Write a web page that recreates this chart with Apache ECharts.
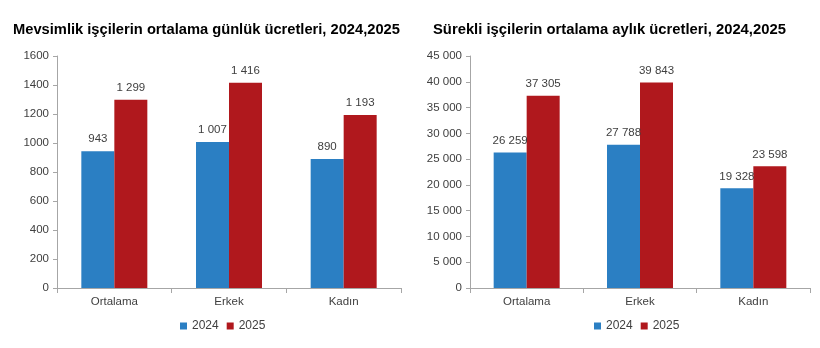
<!DOCTYPE html>
<html>
<head>
<meta charset="utf-8">
<script src="https://cdn.jsdelivr.net/npm/echarts@6/dist/echarts.min.js"></script>
<style>
  html, body { margin: 0; padding: 0; background: #fff; }
  #chart { width: 820px; height: 348px; }
</style>
</head>
<body>
<div id="chart"></div>
<script>
var categories = ['Ortalama', 'Erkek', 'Kadın'];
var years = ['2024', '2025'];
// günlük ücretler (mevsimlik)
var daily2024 = [943, 1007, 890];
var daily2025 = [1299, 1416, 1193];
// aylık ücretler (sürekli)
var monthly2024 = [26259, 27788, 19328];
var monthly2025 = [37305, 39843, 23598];

var blue = '#2b7fc3';
var red = '#b0181d';
var txt = '#404040';
var axisGray = '#a6a6a6';

function spaced(v) {
  return String(v).replace(/\B(?=(\d{3})+(?!\d))/g, ' ');
}

var chart = echarts.init(document.getElementById('chart'));

function xAx(idx) {
  return {
    type: 'category', gridIndex: idx, data: categories,
    axisLine: { lineStyle: { color: axisGray } },
    axisTick: { show: true, length: 5, lineStyle: { color: axisGray } },
    axisLabel: { color: txt, fontSize: 11.5, margin: 8, fontFamily: 'Liberation Sans' }
  };
}
function yAx(idx, max, interval, fmt) {
  return {
    type: 'value', gridIndex: idx, min: 0, max: max, interval: interval,
    axisLine: { show: true, lineStyle: { color: axisGray } },
    axisTick: { show: true, length: 4, lineStyle: { color: axisGray } },
    splitLine: { show: false },
    axisLabel: { color: txt, fontSize: 11.5, margin: 8, fontFamily: 'Liberation Sans', formatter: fmt }
  };
}
function bars(name, data, color, idx) {
  return {
    name: name, type: 'bar', xAxisIndex: idx, yAxisIndex: idx, data: data,
    barWidth: 33, barGap: '0%',
    itemStyle: { color: color },
    label: {
      show: true, position: 'top', distance: 6, color: txt, fontSize: 11.5,
      fontFamily: 'Liberation Sans',
      formatter: function (p) { return spaced(p.value); }
    }
  };
}

var option = {
  animation: false,
  textStyle: { fontFamily: 'Liberation Sans' },
  title: [
    { text: 'Mevsimlik işçilerin ortalama günlük ücretleri, 2024,2025', left: 8, top: 17,
      textStyle: { fontSize: 14.7, fontWeight: 'bold', color: '#000', fontFamily: 'Liberation Sans' } },
    { text: 'Sürekli işçilerin ortalama aylık ücretleri, 2024,2025', left: 428, top: 17,
      textStyle: { fontSize: 14.8, fontWeight: 'bold', color: '#000', fontFamily: 'Liberation Sans' } }
  ],
  legend: [
    { data: years, left: 175, top: 315, itemWidth: 7, itemHeight: 7, itemGap: 8,
      icon: 'rect', textStyle: { color: txt, fontSize: 12 } },
    { data: years, left: 589, top: 315, itemWidth: 7, itemHeight: 7, itemGap: 8,
      icon: 'rect', textStyle: { color: txt, fontSize: 12 } }
  ],
  grid: [
    { left: 57, right: 419, top: 56, bottom: 60 },
    { left: 470, right: 10, top: 56, bottom: 60 }
  ],
  xAxis: [xAx(0), xAx(1)],
  yAxis: [
    yAx(0, 1600, 200, function (v) { return String(v); }),
    yAx(1, 45000, 5000, spaced)
  ],
  series: [
    bars(years[0], daily2024, blue, 0),
    bars(years[1], daily2025, red, 0),
    bars(years[0], monthly2024, blue, 1),
    bars(years[1], monthly2025, red, 1)
  ]
};

chart.setOption(option);
</script>
</body>
</html>
